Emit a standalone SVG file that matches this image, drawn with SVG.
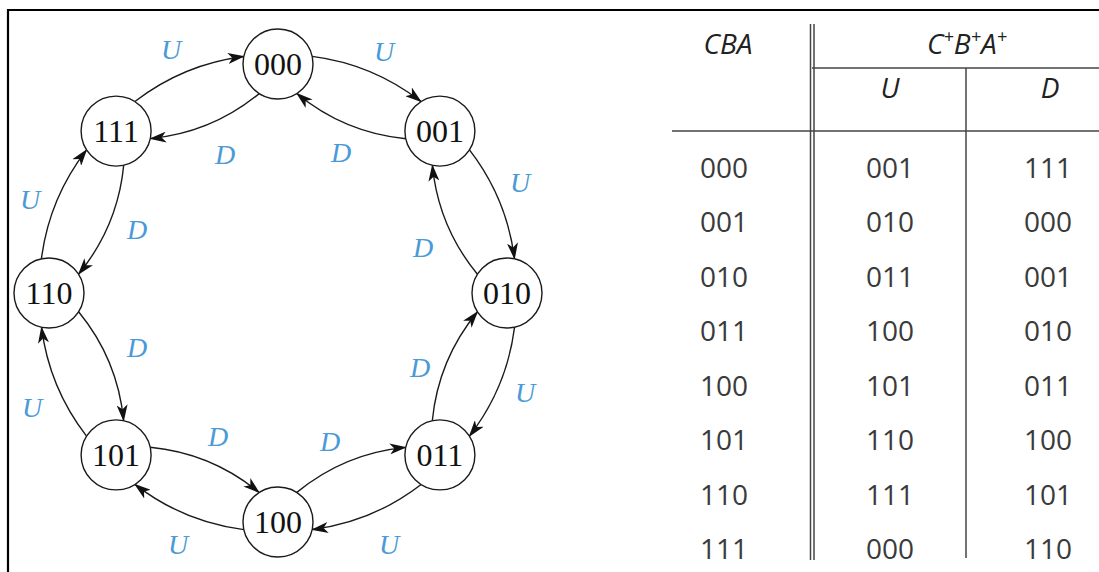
<svg xmlns="http://www.w3.org/2000/svg" xmlns:xlink="http://www.w3.org/1999/xlink" width="1099" height="572" viewBox="0 0 1099 572">
<style>
.node circle{fill:#fff;stroke:#1a1a1a;stroke-width:1.4}
.node text{font-family:"Liberation Serif",serif;font-size:32px;fill:#111;text-anchor:middle}
.arc{fill:none;stroke:#1a1a1a;stroke-width:1.4;marker-end:url(#ah)}
.lbl{font-family:"Liberation Serif",serif;font-style:italic;font-size:28px;fill:#4a9ad8;text-anchor:middle}
.tt{font-family:"Open Sans",sans-serif;font-size:28px;fill:#3a3a3a;text-anchor:middle}
.th{font-family:"Open Sans",sans-serif;font-style:italic;font-size:28px;fill:#222;text-anchor:middle}
.frame{stroke:#000;stroke-width:2.2;fill:none}
.tl{stroke:#444;stroke-width:1.5;fill:none}
</style>
<defs>
<marker id="ah" viewBox="0 0 17 11" refX="16" refY="5.5" markerWidth="17" markerHeight="11" markerUnits="userSpaceOnUse" orient="auto">
<path d="M0,0 L17,5.5 L0,11 L4.5,5.5 z" fill="#111"/>
</marker>
</defs>
<rect width="1099" height="572" fill="#fff"/>
<g id="frame">
<path class="frame" d="M8,572 V10 H1099"/>
</g>
<g id="connectors">
<g id="pair0">
<path class="arc" d="M312.2,56.4 Q372.8,64.2 421.1,101.6"/>
<path class="arc" d="M405.7,138.7 Q344.4,132.7 296.8,93.5"/>
</g>
<use xlink:href="#pair0" transform="rotate(45 278 293)"/>
<use xlink:href="#pair0" transform="rotate(90 278 293)"/>
<use xlink:href="#pair0" transform="rotate(135 278 293)"/>
<use xlink:href="#pair0" transform="rotate(180 278 293)"/>
<use xlink:href="#pair0" transform="rotate(225 278 293)"/>
<use xlink:href="#pair0" transform="rotate(270 278 293)"/>
<use xlink:href="#pair0" transform="rotate(315 278 293)"/>
</g>
<g id="labels">
<text class="lbl" x="171" y="59">U</text>
<text class="lbl" x="384" y="61">U</text>
<text class="lbl" x="225" y="164">D</text>
<text class="lbl" x="341" y="162">D</text>
<text class="lbl" x="30" y="209">U</text>
<text class="lbl" x="137" y="239">D</text>
<text class="lbl" x="520" y="192">U</text>
<text class="lbl" x="423" y="257">D</text>
<text class="lbl" x="137" y="357">D</text>
<text class="lbl" x="32" y="417">U</text>
<text class="lbl" x="420" y="377">D</text>
<text class="lbl" x="525" y="402">U</text>
<text class="lbl" x="218" y="446">D</text>
<text class="lbl" x="330" y="451">D</text>
<text class="lbl" x="178" y="554">U</text>
<text class="lbl" x="389" y="554">U</text>
</g>
<g id="n000" class="node"><circle cx="278" cy="64" r="35"/><text x="278" y="75">000</text></g>
<g id="n001" class="node"><circle cx="439.9" cy="131.1" r="35"/><text x="439.9" y="142.1">001</text></g>
<g id="n010" class="node"><circle cx="507" cy="293" r="35"/><text x="507" y="304">010</text></g>
<g id="n011" class="node"><circle cx="439.9" cy="454.9" r="35"/><text x="439.9" y="465.9">011</text></g>
<g id="n100" class="node"><circle cx="278" cy="522" r="35"/><text x="278" y="533">100</text></g>
<g id="n101" class="node"><circle cx="116.1" cy="454.9" r="35"/><text x="116.1" y="465.9">101</text></g>
<g id="n110" class="node"><circle cx="49" cy="293" r="35"/><text x="49" y="304">110</text></g>
<g id="n111" class="node"><circle cx="116.1" cy="131.1" r="35"/><text x="116.1" y="142.1">111</text></g>
<g id="table">
<path class="tl" d="M810.5,24 V560 M814,24 V560"/>
<path class="tl" d="M966,68 V558"/>
<path class="tl" d="M812,68 H1099"/>
<path class="tl" d="M672,131 H1099"/>
<text class="th" x="728" y="54">CBA</text>
<text class="th" x="967" y="54">C<tspan dy="-11" font-size="18">+</tspan><tspan dy="11">B</tspan><tspan dy="-11" font-size="18">+</tspan><tspan dy="11">A</tspan><tspan dy="-11" font-size="18">+</tspan></text>
<text class="th" x="890" y="98">U</text>
<text class="th" x="1050" y="98">D</text>
<g class="rows">
<text class="tt" x="724" y="178">000</text><text class="tt" x="890" y="178">001</text><text class="tt" x="1048" y="178">111</text>
<text class="tt" x="724" y="232">001</text><text class="tt" x="890" y="232">010</text><text class="tt" x="1048" y="232">000</text>
<text class="tt" x="724" y="287">010</text><text class="tt" x="890" y="287">011</text><text class="tt" x="1048" y="287">001</text>
<text class="tt" x="724" y="341">011</text><text class="tt" x="890" y="341">100</text><text class="tt" x="1048" y="341">010</text>
<text class="tt" x="724" y="396">100</text><text class="tt" x="890" y="396">101</text><text class="tt" x="1048" y="396">011</text>
<text class="tt" x="724" y="450">101</text><text class="tt" x="890" y="450">110</text><text class="tt" x="1048" y="450">100</text>
<text class="tt" x="724" y="505">110</text><text class="tt" x="890" y="505">111</text><text class="tt" x="1048" y="505">101</text>
<text class="tt" x="724" y="559">111</text><text class="tt" x="890" y="559">000</text><text class="tt" x="1048" y="559">110</text>
</g>
</g>
</svg>
